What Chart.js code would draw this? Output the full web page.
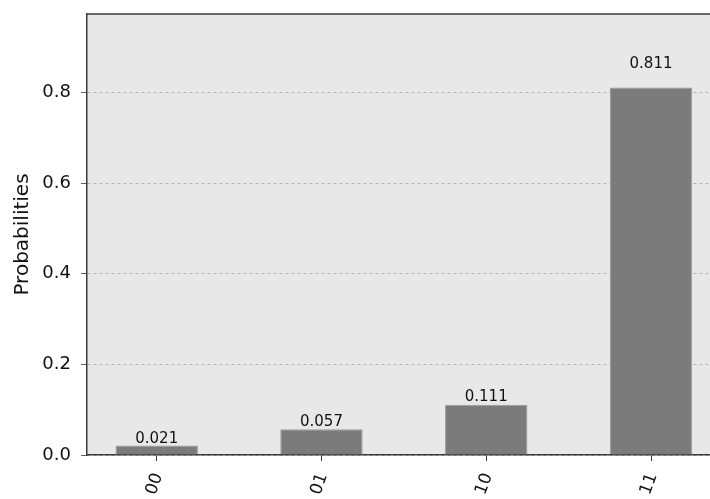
<!DOCTYPE html>
<html>
<head>
<meta charset="utf-8">
<script src="https://cdn.jsdelivr.net/npm/chart.js@4/dist/chart.umd.min.js"></script>
<style>
  html, body { margin: 0; padding: 0; background: #ffffff; }
  #wrap { width: 710px; height: 499px; position: relative; }
</style>
</head>
<body>
<div id="wrap"><canvas id="histChart"></canvas></div>
<script>
// states and their measured probabilities
const states = ["00", "01", "10", "11"];
const probabilities = [0.021, 0.057, 0.111, 0.811];
const yTicks = [0, 0.2, 0.4, 0.6, 0.8];

const FONT = "'DejaVu Sans', sans-serif";

// grey plot background + top spine
const frameGray = {
  id: "frameGray",
  beforeDraw(chart) {
    const { ctx, chartArea: a } = chart;
    ctx.save();
    ctx.fillStyle = "#e8e8e8";
    ctx.fillRect(a.left, a.top, a.right - a.left, a.bottom - a.top);
    ctx.restore();
  },
  afterDraw(chart) {
    const { ctx, chartArea: a } = chart;
    ctx.save();
    ctx.strokeStyle = "#3a3a3a";
    ctx.lineWidth = 1.5;
    ctx.beginPath();
    ctx.moveTo(a.left, a.top);
    ctx.lineTo(a.right, a.top);
    ctx.stroke();
    ctx.restore();
  },
};

// value text above each bar (at 1.05 * height, like qiskit)
const barValues = {
  id: "barValues",
  afterDatasetsDraw(chart) {
    const { ctx } = chart;
    const yScale = chart.scales.y;
    const meta = chart.getDatasetMeta(0);
    ctx.save();
    ctx.font = "15px " + FONT;
    ctx.fillStyle = "#111111";
    ctx.textAlign = "center";
    ctx.textBaseline = "bottom";
    meta.data.forEach((bar, i) => {
      const v = probabilities[i];
      ctx.fillText(v.toFixed(3), bar.x, yScale.getPixelForValue(v * 1.05) + 2);
    });
    ctx.restore();
  },
};

// state labels under the axis, rotated 70 deg and centred on the tick
const stateLabels = {
  id: "stateLabels",
  afterDraw(chart) {
    const { ctx } = chart;
    const xScale = chart.scales.x;
    ctx.save();
    ctx.font = "17px " + FONT;
    ctx.fillStyle = "#111111";
    ctx.textAlign = "center";
    ctx.textBaseline = "middle";
    states.forEach((s, i) => {
      ctx.save();
      ctx.translate(xScale.getPixelForValue(i) - 2, xScale.top + 29);
      ctx.rotate(-70 * Math.PI / 180);
      ctx.fillText(s, 0, 0);
      ctx.restore();
    });
    ctx.restore();
  },
};

const ctx = document.getElementById("histChart").getContext("2d");
new Chart(ctx, {
  type: "bar",
  data: {
    datasets: [
      {
        data: probabilities.map((p, i) => ({ x: i, y: p })),
        backgroundColor: "#7b7b7b",
        borderColor: "#9a9a9a",
        borderWidth: 1,
        categoryPercentage: 1,
        barPercentage: 0.5,
      },
    ],
  },
  options: {
    responsive: true,
    maintainAspectRatio: false,
    animation: false,
    layout: { padding: { top: 14, right: 0, left: 0, bottom: 0 } },
    plugins: {
      legend: { display: false },
      tooltip: { enabled: false },
    },
    scales: {
      x: {
        type: "linear",
        offset: false,
        min: -0.423,
        max: 3.358,
        afterBuildTicks: (scale) => {
          scale.ticks = states.map((s, i) => ({ value: i }));
        },
        afterFit: (scale) => {
          scale.height = 44;
          scale.paddingLeft = 0;
          scale.paddingRight = 0;
        },
        ticks: {
          callback: () => "",
          maxRotation: 0,
        },
        grid: {
          offset: false,
          drawOnChartArea: false,
          drawTicks: true,
          tickLength: 6,
          tickColor: "#333333",
        },
        border: { color: "#3a3a3a", width: 1.5 },
      },
      y: {
        min: 0,
        max: 0.9732,
        afterBuildTicks: (scale) => {
          scale.ticks = yTicks.map((t) => ({ value: t }));
        },
        afterFit: (scale) => {
          scale.width = 87;
          scale.paddingTop = 0;
          scale.paddingBottom = 0;
        },
        ticks: {
          callback: (v) => v.toFixed(1),
          padding: 10,
          color: "#111111",
          font: { family: FONT, size: 18 },
        },
        grid: {
          color: "#a8a8a8",
          lineWidth: 0.8,
          drawTicks: true,
          tickLength: 6,
          tickColor: "#333333",
          tickBorderDash: [],
        },
        border: { color: "#3a3a3a", width: 1.5, dash: [3, 3] },
        title: {
          display: true,
          text: "Probabilities",
          color: "#111111",
          padding: { top: 11, bottom: 6 },
          font: { family: FONT, size: 20 },
        },
      },
    },
  },
  plugins: [frameGray, barValues, stateLabels],
});
</script>
</body>
</html>
